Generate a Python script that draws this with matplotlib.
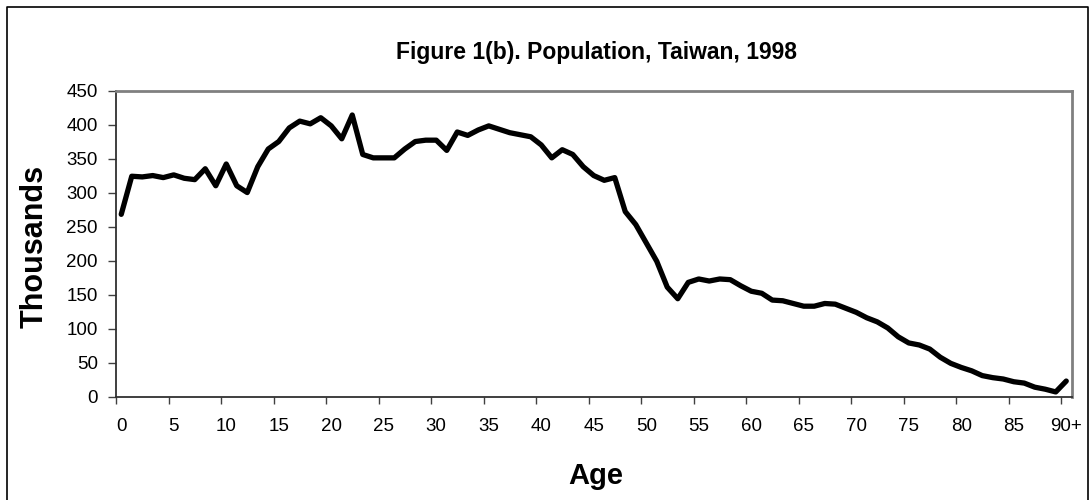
import matplotlib
matplotlib.use("Agg")
import matplotlib.pyplot as plt
from matplotlib.lines import Line2D

plt.rcParams['font.family'] = ['Liberation Sans', 'DejaVu Sans']

ages = list(range(0, 91))
tick_labels = [str(a) for a in range(0, 90, 5)] + ["90+"]
population = [
    268, 324, 323, 325, 322, 326, 321, 319, 335, 310,
    342, 310, 300, 338, 364, 375, 395, 405, 401, 410,
    398, 379, 414, 356, 351, 351, 351, 364, 375, 377,
    377, 362, 389, 384, 392, 398, 393, 388, 385, 382,
    370, 351, 363, 356, 338, 325, 318, 322, 272, 253,
    226, 199, 161, 144, 168, 173, 170, 173, 172, 163,
    155, 152, 142, 141, 137, 133, 133, 137, 136, 130,
    124, 116, 110, 101, 88, 79, 76, 70, 58, 49,
    43, 38, 31, 28, 26, 22, 20, 14, 11, 7,
    23,
]

W, H = 1090, 500
fig = plt.figure(figsize=(W / 100, H / 100), dpi=100)
fig.patch.set_facecolor('white')

left, right, top, bottom = 116, 1071.5, 90.5, 396.7
ax = fig.add_axes([left / W, 1 - bottom / H, (right - left) / W, (bottom - top) / H])

ax.plot(ages, population, color='black', lw=3.8, solid_joinstyle='round', solid_capstyle='round')

ax.set_xlim(-0.5, 90.5)
ax.set_ylim(0, 450)
ax.set_yticks(range(0, 451, 50))

# major ticks: marks on category boundaries; minor: labels at category centres
ax.set_xticks([-0.5 + 5 * k for k in range(19)])
ax.set_xticklabels([])
ax.set_xticks(list(range(0, 91, 5)), minor=True)
ax.set_xticklabels(tick_labels, minor=True)
ax.tick_params(axis='x', which='major', direction='out', length=5, width=1, color='#404040')
ax.tick_params(axis='x', which='minor', length=0, pad=15, labelsize=13.5)
ax.tick_params(axis='y', direction='out', length=6, width=1, color='#404040', pad=7, labelsize=13.5)

for s in ['top', 'right']:
    ax.spines[s].set_color('#808080')
    ax.spines[s].set_linewidth(2)
for s in ['left', 'bottom']:
    ax.spines[s].set_color('#303030')
    ax.spines[s].set_linewidth(1.3)

fig.text(596 / W, 1 - 52 / H, 'Figure 1(b). Population, Taiwan, 1998',
         ha='center', va='center', fontsize=16.5, fontweight='bold')
fig.text(35 / W, 1 - 246 / H, 'Thousands', rotation=90,
         ha='center', va='center', fontsize=22, fontweight='bold')
fig.text(596 / W, 1 - 476 / H, 'Age', ha='center', va='center',
         fontsize=21, fontweight='bold')

# outer chart border (left, top, right)
bx0, bx1, by0 = 6.5 / W, 1088 / W, 1 - 7 / H
fig.add_artist(Line2D([bx0, bx0, bx1, bx1], [0, by0, by0, 0], color='black', lw=1.2,
                      transform=fig.transFigure))

fig.savefig('out.png', dpi=100, facecolor='white')
